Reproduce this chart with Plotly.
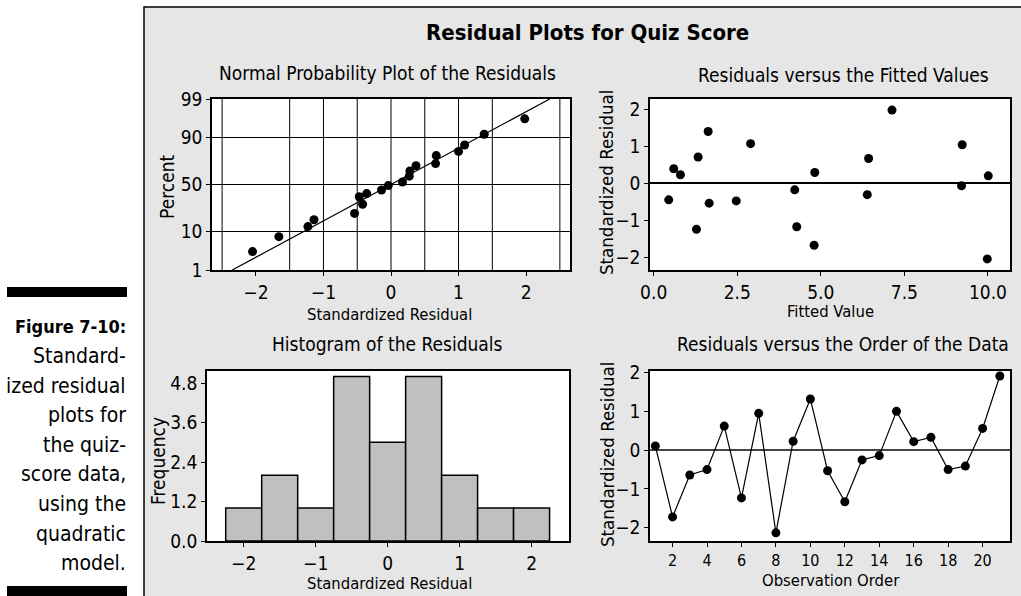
import plotly.graph_objects as go
from statistics import NormalDist

W, H = 1021, 596

# normal probability plot (residual, percent)
np_resid = [-2.05, -1.66, -1.23, -1.14, -0.54, -0.47, -0.42, -0.36, -0.14, -0.04,
            0.17, 0.27, 0.28, 0.37, 0.66, 0.67, 1.00, 1.09, 1.38, 1.98]
np_pct = [3.4, 7.8, 12.6, 16.9, 21.6, 37.0, 29.5, 40.2, 44.0, 48.8,
          52.7, 59.0, 64.3, 69.6, 71.5, 78.4, 81.6, 85.9, 91.4, 96.3]
line_resid = [-2.35, 2.35]
line_pct = [1, 99]
pct_ticks = [1, 10, 50, 90, 99]
np_grid_x = [-2.5, -1.5, -1, -0.5, 0, 0.5, 1, 1.5, 2.5]

# residuals versus fitted values
fitted = [0.45, 0.60, 0.80, 1.28, 1.33, 1.63, 1.66, 2.47, 2.90, 4.22,
          4.28, 4.80, 4.82, 6.39, 6.43, 7.13, 9.23, 9.21, 10.01, 9.98]
fit_resid = [-0.45, 0.39, 0.23, -1.25, 0.71, 1.40, -0.54, -0.48, 1.07, -0.18,
             -1.18, -1.68, 0.29, -0.31, 0.67, 1.98, 1.04, -0.07, 0.20, -2.05]

# histogram
bin_mid = [-2, -1.5, -1, -0.5, 0, 0.5, 1, 1.5, 2]
bin_count = [1, 2, 1, 5, 3, 5, 2, 1, 1]
bin_width = 0.5

# residuals versus order
order = list(range(1, 22))
order_resid = [0.11, -1.72, -0.64, -0.50, 0.62, -1.23, 0.95, -2.13, 0.23, 1.32,
               -0.53, -1.33, -0.25, -0.14, 1.00, 0.22, 0.33, -0.50, -0.41, 0.56, 1.91]

caption = ["Standard-", "ized residual", "plots for", "the quiz-",
           "score data,", "using the", "quadratic", "model."]

FONT = "DejaVu Sans Condensed, DejaVu Sans, sans-serif"


def probit(p):
    return NormalDist().inv_cdf(p / 100)


def px(x):
    return x / W


def py(y):
    return 1 - y / H


def ann(text, x, y, size, bold=False, angle=0, xanchor="center"):
    if bold:
        text = "<b>" + text + "</b>"
    return dict(text=text, x=px(x), y=py(y), xref="paper", yref="paper",
                xanchor=xanchor, yanchor="middle", showarrow=False, textangle=angle,
                font=dict(family=FONT, size=size, color="black"))


fig = go.Figure()

fig.add_trace(go.Scatter(x=line_resid, y=[probit(p) for p in line_pct], mode="lines",
                         line=dict(color="black", width=1.2), xaxis="x", yaxis="y"))
fig.add_trace(go.Scatter(x=np_resid, y=[probit(p) for p in np_pct], mode="markers",
                         marker=dict(color="black", size=9), xaxis="x", yaxis="y"))
fig.add_trace(go.Scatter(x=fitted, y=fit_resid, mode="markers",
                         marker=dict(color="black", size=9), xaxis="x2", yaxis="y2"))
fig.add_trace(go.Bar(x=bin_mid, y=bin_count, width=bin_width,
                     marker=dict(color="#c0c0c0", line=dict(color="black", width=1.5)),
                     xaxis="x3", yaxis="y3"))
fig.add_trace(go.Scatter(x=order, y=order_resid, mode="lines+markers",
                         line=dict(color="black", width=1.2),
                         marker=dict(color="black", size=9), xaxis="x4", yaxis="y4"))

axis = dict(showline=True, linecolor="black", linewidth=1.5, mirror=True,
            ticks="outside", ticklen=4, tickwidth=1, tickcolor="black",
            showgrid=False, zeroline=False, fixedrange=True, automargin=False,
            tickfont=dict(family=FONT, size=19, color="black"))

fig.update_layout(
    width=W, height=H, showlegend=False, autosize=False,
    margin=dict(l=0, r=0, t=0, b=0, pad=0, autoexpand=False),
    paper_bgcolor="white", plot_bgcolor="white",
    font=dict(family=FONT, color="black"),
    xaxis=dict(axis, domain=[px(212), px(570)], range=[-2.65, 2.65], anchor="y",
               tickvals=[-2, -1, 0, 1, 2]),
    yaxis=dict(axis, domain=[py(270), py(99)], range=[probit(1), probit(99)], anchor="x",
               tickvals=[probit(p) for p in pct_ticks],
               ticktext=[str(p) for p in pct_ticks],
               showgrid=True, gridcolor="black", gridwidth=1),
    xaxis2=dict(axis, domain=[px(650), px(1010)], range=[-0.11, 10.66], anchor="y2",
                tickvals=[0, 2.5, 5, 7.5, 10], tickformat=".1f"),
    yaxis2=dict(axis, domain=[py(270), py(99)], range=[-2.35, 2.28], anchor="x2",
                tickvals=[-2, -1, 0, 1, 2],
                zeroline=True, zerolinecolor="black", zerolinewidth=1.5),
    xaxis3=dict(axis, domain=[px(207), px(569)], range=[-2.51, 2.52], anchor="y3",
                tickvals=[-2, -1, 0, 1, 2]),
    yaxis3=dict(axis, domain=[py(541), py(371)], range=[0, 5.17], anchor="x3",
                tickvals=[0, 1.2, 2.4, 3.6, 4.8], tickformat=".1f"),
    xaxis4=dict(axis, domain=[px(650), px(1010)], range=[0.69, 21.59], anchor="y4",
                tickvals=list(range(2, 21, 2)),
                tickfont=dict(family=FONT, size=16, color="black")),
    yaxis4=dict(axis, domain=[py(541), py(371)], range=[-2.34, 2.04], anchor="x4",
                tickvals=[-2, -1, 0, 1, 2],
                zeroline=True, zerolinecolor="#444444", zerolinewidth=1.5),
)

shapes = [
    dict(type="rect", xref="paper", yref="paper", x0=px(144), x1=px(1040),
         y0=py(7), y1=py(620), fillcolor="#e6e6e6",
         line=dict(color="black", width=1.5), layer="below"),
    dict(type="rect", xref="paper", yref="paper", x0=px(7), x1=px(127),
         y0=py(287), y1=py(297), fillcolor="black", line=dict(width=0)),
    dict(type="rect", xref="paper", yref="paper", x0=px(7), x1=px(127),
         y0=py(586), y1=py(600), fillcolor="black", line=dict(width=0)),
]
for k in ["", "2", "3", "4"]:
    shapes.append(dict(type="rect", xref="x" + k + " domain", yref="y" + k + " domain",
                       x0=0, x1=1, y0=0, y1=1, fillcolor="white",
                       line=dict(width=0), layer="below"))
for gx in np_grid_x:
    shapes.append(dict(type="line", xref="x", yref="y domain", x0=gx, x1=gx,
                       y0=0, y1=1, line=dict(color="black", width=1), layer="below"))

annotations = [
    ann("Residual Plots for Quiz Score", 587, 33, 22, bold=True),
    ann("Normal Probability Plot of the Residuals", 387, 73, 19),
    ann("Residuals versus the Fitted Values", 843, 75, 19),
    ann("Histogram of the Residuals", 387, 344, 19),
    ann("Residuals versus the Order of the Data", 843, 344, 19),
    ann("Standardized Residual", 389, 314, 16.5),
    ann("Percent", 167, 187, 19, angle=-90),
    ann("Fitted Value", 830, 311, 16.5),
    ann("Standardized Residual", 607, 183, 18.5, angle=-90),
    ann("Frequency", 158, 461, 19, angle=-90),
    ann("Standardized Residual", 389, 583, 16.5),
    ann("Standardized Residual", 607, 455, 18.5, angle=-90),
    ann("Observation Order", 831, 580, 16.5),
    ann("Figure 7-10:", 128, 326, 18, bold=True, xanchor="right"),
]
for i, line in enumerate(caption):
    annotations.append(ann(line, 128, 356 + i * 29.6, 21, xanchor="right"))

fig.update_layout(shapes=shapes, annotations=annotations)

fig.write_html("out.html", config={"displayModeBar": False},
               post_script="document.body.style.margin='0';")
